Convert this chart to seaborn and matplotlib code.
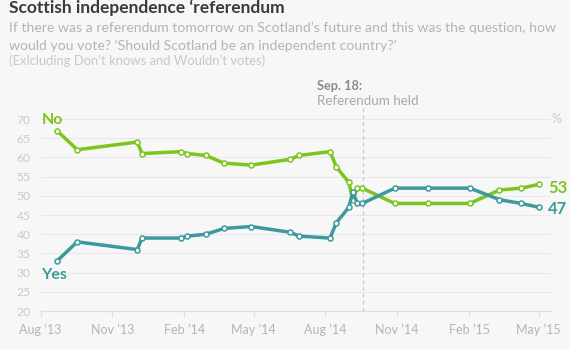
import matplotlib
matplotlib.use("Agg")
import matplotlib.pyplot as plt
import seaborn as sns
import pandas as pd

# ---- data ----
poll_dates = ["2013-08-22", "2013-09-17", "2013-12-03", "2013-12-09", "2014-01-28",
              "2014-02-05", "2014-03-01", "2014-03-24", "2014-04-28", "2014-06-17",
              "2014-06-28", "2014-08-07", "2014-08-15", "2014-08-31", "2014-09-05",
              "2014-09-11", "2014-09-17", "2014-10-29", "2014-12-11", "2015-02-02",
              "2015-03-12", "2015-04-09", "2015-05-02"]
no_values = [67, 62, 64, 61, 61.5, 61, 60.5, 58.5, 58, 59.5, 60.5, 61.5, 57.5, 53.5,
             49, 52, 52, 48, 48, 48, 51.5, 52, 53]
yes_values = [33, 38, 36, 39, 39, 39.5, 40, 41.5, 42, 40.5, 39.5, 39, 43, 47,
              51, 48, 48, 52, 52, 52, 49, 48, 47]
tick_dates = ["2013-08-01", "2013-11-01", "2014-02-01", "2014-05-01",
              "2014-08-01", "2014-11-01", "2015-02-01", "2015-05-01"]
tick_labels = ["Aug \u201913", "Nov \u201913", "Feb \u201914", "May \u201914",
               "Aug \u201914", "Nov \u201914", "Feb \u201915", "May \u201915"]
y_ticks = [20, 25, 30, 35, 40, 45, 50, 55, 60, 65, 70]
referendum_date = "2014-09-18"

GREEN = "#7cc51f"
TEAL = "#3c9a9d"
BG = "#f7f7f7"

sns.set_theme(style="white")
plt.rcParams["font.family"] = ["Lato", "DejaVu Sans"]

df = pd.DataFrame({"date": pd.to_datetime(poll_dates), "No": no_values, "Yes": yes_values})

fig = plt.figure(figsize=(5.7, 3.5), dpi=100, facecolor=BG)
W, H = 570, 350
ax = fig.add_axes([40.5 / W, 1 - 311 / H, (551 - 40.5) / W, (311 - 119) / H])
ax.set_facecolor(BG)

for col, color in [("No", GREEN), ("Yes", TEAL)]:
    sns.lineplot(data=df, x="date", y=col, ax=ax, color=color, linewidth=2.5,
                 marker="o", markersize=3.6, markerfacecolor="white",
                 markeredgecolor=color, markeredgewidth=1.1, clip_on=False, zorder=3)

ax.set_ylim(20, 70)
ax.set_xlim(pd.Timestamp("2013-08-01"), pd.Timestamp("2015-05-17"))
ax.set_yticks(y_ticks)
ax.set_xticks(pd.to_datetime(tick_dates))
ax.set_xticklabels(tick_labels)
ax.set_xlabel("")
ax.set_ylabel("")
for y in y_ticks[1:]:
    ax.axhline(y, color="#e8e8e8", lw=0.8, zorder=0)
for s in ["top", "right", "left"]:
    ax.spines[s].set_visible(False)
ax.spines["bottom"].set_color("#dedede")
ax.spines["bottom"].set_linewidth(0.9)
ax.tick_params(axis="y", length=0, pad=7, labelsize=8.7, labelcolor="#c9c9c9")
ax.tick_params(axis="x", length=4, width=0.9, color="#dedede", pad=5,
               labelsize=9, labelcolor="#b5b5b5", bottom=True)

# referendum line
ax.axvline(pd.Timestamp(referendum_date), ymin=0, ymax=1.057, color="#c8c8c8",
           lw=0.9, ls=(0, (3, 2.5)), clip_on=False, zorder=1)
fig.text(317 / W, 1 - 90 / H, "Sep. 18:", fontsize=9.2, fontweight="bold",
         color="#8c8c8c", va="baseline")
fig.text(317 / W, 1 - 105 / H, "Referendum held", fontsize=9.6, color="#a8a8a8",
         va="baseline")

# series labels
first, last = df["date"].iloc[0], df["date"].iloc[-1]
ax.annotate("No", xy=(first, no_values[0]), xytext=(-15, 11), textcoords="offset pixels",
            color=GREEN, fontsize=11.5, fontweight="bold", va="center", ha="left")
ax.annotate("Yes", xy=(first, yes_values[0]), xytext=(-16, -14), textcoords="offset pixels",
            color=TEAL, fontsize=11.5, fontweight="bold", va="center", ha="left")
ax.annotate(str(no_values[-1]), xy=(last, no_values[-1]), xytext=(9, -4),
            textcoords="offset pixels", color=GREEN, fontsize=12, fontweight="bold",
            va="center", ha="left")
ax.annotate(str(yes_values[-1]), xy=(last, yes_values[-1]), xytext=(9, -2),
            textcoords="offset pixels", color=TEAL, fontsize=12, fontweight="bold",
            va="center", ha="left")
ax.annotate("%", xy=(1, 70), xycoords=("axes fraction", "data"), xytext=(0, 0),
            textcoords="offset pixels", color="#c9c9c9", fontsize=9, va="center", ha="left")

# titles
fig.text(9 / W, 1 - 13 / H, "Scottish independence \u2018referendum", fontsize=12.5,
         fontweight="bold", color="#3a3a3a", va="baseline")
fig.text(9 / W, 1 - 32 / H,
         "If there was a referendum tomorrow on Scotland\u2019s future and this was the question, how",
         fontsize=10.05, color="#b4b4b4", va="baseline")
fig.text(9 / W, 1 - 50 / H,
         "would you vote? \u2018Should Scotland be an independent country?\u2019",
         fontsize=10.05, color="#b4b4b4", va="baseline")
fig.text(9 / W, 1 - 65 / H, "(Exlcluding Don\u2019t knows and Wouldn\u2019t votes)",
         fontsize=9.4, color="#c8c8c8", va="baseline")

fig.savefig("out.png", dpi=100, facecolor=BG)
